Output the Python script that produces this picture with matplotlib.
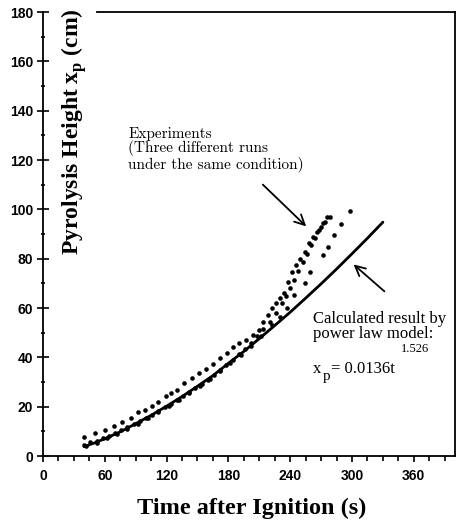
import matplotlib
matplotlib.use("Agg")
import matplotlib.pyplot as plt
from matplotlib.ticker import MultipleLocator

plt.rcParams['mathtext.fontset'] = 'custom'
plt.rcParams['mathtext.rm'] = 'Liberation Serif'
plt.rcParams['mathtext.bf'] = 'Liberation Serif:bold'

# calculated result, power law model
t_model = [40, 50, 60, 75, 90, 105, 120, 135, 150, 165, 180, 195, 210, 225, 240, 255, 270, 285, 300, 315, 330]
x_model = [3.8, 5.3, 7.0, 9.8, 13.1, 16.5, 20.2, 24.1, 28.3, 32.6, 37.6, 42.4, 47.6, 52.9, 58.3, 64.0, 69.8, 75.8, 82.0, 88.3, 94.8]

# experiments, three runs
t_run1 = [40, 50, 60, 69, 77, 85, 92, 99, 106, 112, 119, 124, 130, 137, 145, 151, 158, 165, 172, 179,
          184, 190, 197, 204, 210, 214, 218, 222, 226, 230, 234, 238, 242, 246, 250, 254, 258, 262, 266, 270, 274, 279]
x_run1 = [7.7, 9.4, 10.5, 12.2, 13.9, 15.6, 17.8, 18.5, 20.3, 22.0, 24.4, 25.4, 26.8, 29.5, 31.5, 33.5, 35.3, 37.2, 39.6, 41.6,
          44.3, 45.7, 47.0, 49.0, 51.0, 54.4, 57.0, 60.0, 62.0, 64.0, 66.0, 70.7, 74.7, 77.4, 80.0, 82.8, 86.2, 88.9, 90.9, 93.0, 95.0, 96.7]

t_run2 = [40, 46, 52, 58, 64, 70, 76, 82, 88, 94, 100, 106, 112, 118, 124, 130, 136, 142, 148, 154, 160, 166, 172, 178,
          184, 190, 196, 202, 208, 214, 220, 226, 232, 236, 240, 244, 248, 252, 256, 260, 264, 268, 272, 276]
x_run2 = [4.5, 5.5, 6.0, 7.2, 8.3, 9.4, 10.6, 11.6, 12.9, 14.2, 15.3, 16.8, 18.3, 19.7, 21.2, 22.7, 24.3, 25.9, 27.6, 29.3, 31.0, 32.8, 34.8, 36.8,
          39.0, 41.3, 43.5, 45.8, 48.5, 51.5, 54.5, 58.0, 62.0, 65.0, 68.0, 71.5, 75.0, 78.5, 82.0, 85.5, 88.5, 91.5, 94.5, 97.0]

t_run3 = [42, 52, 62, 72, 82, 92, 102, 112, 122, 132, 142, 152, 162, 172, 182, 192, 202, 212, 222, 230,
          237, 244, 254, 259, 272, 277, 283, 289, 298]
x_run3 = [4.0, 5.4, 7.1, 9.0, 11.0, 13.1, 15.4, 17.8, 20.3, 22.9, 25.6, 28.4, 31.4, 34.5, 37.6, 41.0, 44.5, 48.5, 53.0, 56.5,
          59.9, 65.3, 70.0, 74.7, 81.5, 84.8, 89.6, 94.0, 99.4]

xticks = [0, 60, 120, 180, 240, 300, 360]
yticks = [0, 20, 40, 60, 80, 100, 120, 140, 160, 180]

fig = plt.figure(figsize=(4.64, 5.23), dpi=100)
ax = fig.add_axes([43/464, 1-456/523, (455-43)/464, (456-12)/523])

ax.plot(t_model, x_model, color='black', lw=2.0, solid_capstyle='round')
for tt, xx in [(t_run1, x_run1), (t_run2, x_run2), (t_run3, x_run3)]:
    ax.plot(tt, xx, 'o', color='black', ms=3.3, mew=0)

ax.set_xlim(0, 400)
ax.set_ylim(0, 180)
ax.set_xticks(xticks)
ax.set_yticks(yticks)
ax.xaxis.set_minor_locator(MultipleLocator(15))
ax.yaxis.set_minor_locator(MultipleLocator(10))
ax.tick_params(axis='x', which='major', direction='out', length=4, width=1.2, pad=5)
ax.tick_params(axis='x', which='minor', direction='out', length=3.5, width=1.2)
ax.tick_params(axis='y', which='major', direction='inout', length=8, width=1.2, pad=3)
ax.tick_params(axis='y', which='minor', direction='inout', length=3, width=1.2)
for lab in ax.get_xticklabels() + ax.get_yticklabels():
    lab.set_fontfamily('Liberation Sans')
    lab.set_fontweight('bold')
    lab.set_fontsize(10)

for s in ax.spines.values():
    s.set_linewidth(1.3)
ax.spines['top'].set_bounds(52, 400)

fig.text(252/464, 1-508/523, 'Time after Ignition (s)', ha='center', va='center',
         fontfamily='Liberation Serif', fontweight='bold', fontsize=17.5)
fig.text(74/464, 1-132/523, r'Pyrolysis Height x$_\mathbf{p}$ (cm)', rotation=90,
         ha='center', va='center', fontfamily='Liberation Serif', fontweight='bold', fontsize=17)

ax.text(83, 133.5, 'Experiments\n(Three different runs\nunder the same condition)', ha='left', va='top',
        fontfamily='cmr10', fontsize=11, linespacing=1.0)
ax.annotate('', xy=(257.5, 92.3), xytext=(211.5, 110.8),
            arrowprops=dict(arrowstyle='->', color='black', lw=1.3, mutation_scale=18))
ax.annotate('', xy=(299.5, 78.4), xytext=(333.5, 66),
            arrowprops=dict(arrowstyle='->', color='black', lw=1.3, mutation_scale=18))

ax.text(262, 58.8, 'Calculated result by\npower law model:', ha='left', va='top',
        fontfamily='Liberation Serif', fontsize=12, linespacing=0.95)
ax.text(262, 33.6, 'x', ha='left', va='baseline', fontfamily='Liberation Serif', fontsize=12)
ax.text(271.5, 30.8, 'p', ha='left', va='baseline', fontfamily='Liberation Serif', fontsize=11)
ax.text(280, 33.6, '= 0.0136t', ha='left', va='baseline', fontfamily='Liberation Serif', fontsize=12)
ax.text(347.5, 42.2, '1.526', ha='left', va='baseline', fontfamily='Liberation Serif', fontsize=9)

fig.savefig('out.png', dpi=100)
